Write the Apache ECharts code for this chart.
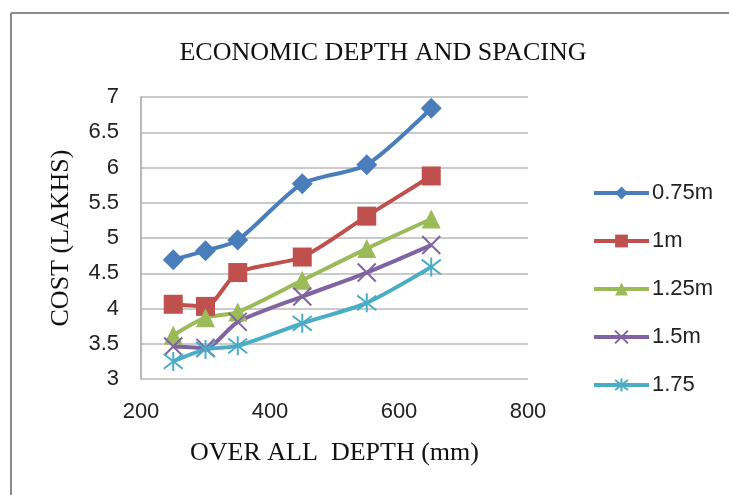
<!DOCTYPE html>
<html>
<head>
<meta charset="utf-8">
<script src="https://cdn.jsdelivr.net/npm/echarts@6/dist/echarts.min.js"></script>
<style>html,body{margin:0;padding:0;background:#fff}#c{width:729px;height:495px}</style>
</head>
<body>
<div id="c"></div>
<script>
var depths = [250, 300, 350, 450, 550, 650];
var names = ['0.75m', '1m', '1.25m', '1.5m', '1.75'];
var s075 = [4.69, 4.82, 4.97, 5.77, 6.04, 6.84];
var s100 = [4.06, 4.03, 4.51, 4.73, 5.31, 5.88];
var s125 = [3.62, 3.87, 3.95, 4.40, 4.85, 5.27];
var s150 = [3.46, 3.44, 3.81, 4.17, 4.51, 4.90];
var s175 = [3.25, 3.42, 3.47, 3.79, 4.08, 4.59];
var xTicks = [200, 400, 600, 800];
var yTicks = [3, 3.5, 4, 4.5, 5, 5.5, 6, 6.5, 7];

var colors = ['#4A7EBB', '#C0504D', '#9BBB59', '#8064A2', '#4BACC6'];
var values = [s075, s100, s125, s150, s175];
var symbols = ['diamond', 'rect', 'triangle',
  'path://M0,0L10,10M10,0L0,10',
  'path://M0,0L10,10M10,0L0,10M5,-1.5L5,11.5'];
var sizes = [21, 19, 19, 18, 19];

function pairs(v) { return depths.map(function (d, i) { return [d, v[i]]; }); }

var series = values.map(function (v, k) {
  var isPath = k >= 3;
  return {
    name: names[k],
    type: 'line',
    data: pairs(v),
    smooth: 0.25,
    symbol: symbols[k],
    symbolSize: sizes[k],
    showSymbol: true,
    lineStyle: { color: colors[k], width: 4 },
    itemStyle: {
      color: colors[k],
      borderColor: colors[k],
      borderWidth: isPath ? 2 : 0
    },
    emphasis: { disabled: true }
  };
});

var chart = echarts.init(document.getElementById('c'), null, { renderer: 'canvas' });
chart.setOption({
  animation: false,
  backgroundColor: '#fff',
  title: {
    text: 'ECONOMIC DEPTH AND SPACING',
    left: 378, top: 35, textAlign: 'center',
    textStyle: { fontFamily: 'Liberation Serif', fontWeight: 'normal', fontSize: 26, color: '#111' }
  },
  legend: {
    orient: 'vertical',
    left: 587, top: 177,
    itemWidth: 55, itemHeight: 16, itemGap: 26,
    lineStyle: { width: 4 },
    textStyle: { fontFamily: 'Liberation Sans', fontSize: 22, color: '#222', lineHeight: 22, padding: [0, 0, 0, -2] },
    data: names
  },
  grid: { left: 141, right: 201, top: 97, bottom: 116, containLabel: false },
  xAxis: {
    type: 'value', min: 200, max: 800, interval: 200,
    name: 'OVER ALL  DEPTH (mm)', nameLocation: 'middle', nameGap: 61,
    nameTextStyle: { fontFamily: 'Liberation Serif', fontSize: 26, color: '#111' },
    axisLine: { show: false },
    axisTick: { show: false },
    splitLine: { show: false },
    axisLabel: { margin: 22, fontFamily: 'Liberation Sans', fontSize: 22, color: '#222',
      formatter: function (v) { return xTicks.indexOf(v) >= 0 ? String(v) : ''; } }
  },
  yAxis: {
    type: 'value', min: 3, max: 7, interval: 0.5,
    name: 'COST (LAKHS)', nameLocation: 'middle', nameGap: 67, nameRotate: 90,
    nameTextStyle: { fontFamily: 'Liberation Serif', fontSize: 26, color: '#111' },
    axisLine: { show: true, lineStyle: { color: '#a0a0a0', width: 1.5 } },
    axisTick: { show: false },
    splitLine: { show: true, lineStyle: { color: '#b8b8b8', width: 1.5 } },
    axisLabel: { margin: 22, fontFamily: 'Liberation Sans', fontSize: 22, color: '#222',
      formatter: function (v) { return yTicks.indexOf(v) >= 0 ? String(v) : ''; } }
  },
  graphic: [
    { type: 'line', shape: { x1: 11, y1: 13, x2: 11, y2: 495 }, style: { stroke: '#8a8a8a', lineWidth: 2 }, silent: true },
    { type: 'line', shape: { x1: 11, y1: 13, x2: 729, y2: 13 }, style: { stroke: '#8a8a8a', lineWidth: 2 }, silent: true }
  ],
  series: series
});
</script>
</body>
</html>
